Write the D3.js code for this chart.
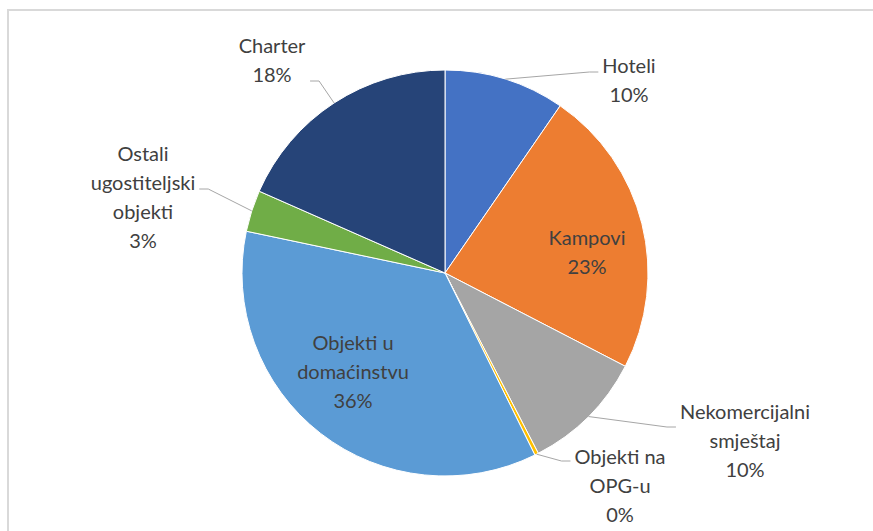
<!DOCTYPE html>
<html>
<head>
<meta charset="utf-8">
<script src="https://cdnjs.cloudflare.com/ajax/libs/d3/7.8.5/d3.min.js"></script>
<style>
body { margin: 0; background: #fff; }
text { font-family: Lato, "Open Sans", sans-serif; fill: #404040; }
</style>
</head>
<body>
<svg id="chart" width="873" height="531"></svg>
<script>
var categories = ["Hoteli", "Kampovi", "Nekomercijalni\nsmještaj", "Objekti na\nOPG-u", "Objekti u\ndomaćinstvu", "Ostali\nugostiteljski\nobjekti", "Charter"];
var shares = [9.6, 23.0, 9.8, 0.3, 35.6, 3.3, 18.4];
var colors = ["#4472C4", "#ED7D31", "#A5A5A5", "#FFC000", "#5B9BD5", "#70AD47", "#264478"];

// where each label block sits, relative to pie centre (side = leader line comes in from)
var labelLayout = {
  "Hoteli":        {x: 184, y: -193, side: "left",  attachY: -201},
  "Kampovi":       {x: 142, y: -21},
  "Nekomercijalni\nsmještaj": {x: 300, y: 168, side: "left", attachY: 154},
  "Objekti na\nOPG-u":        {x: 175, y: 213, side: "left", attachY: 188},
  "Objekti u\ndomaćinstvu":   {x: -92, y: 99},
  "Ostali\nugostiteljski\nobjekti": {x: -302, y: -76, side: "right", attachY: -84},
  "Charter":       {x: -173, y: -213, side: "right", attachY: -192}
};

function drawPie(domId){
  var svg = d3.select(domId);
  var cx = 445, cy = 273, radius = 203;
  var lineH = 29;

  // frame
  svg.append("rect")
    .attr("x", 8).attr("y", 10)
    .attr("width", 900).attr("height", 560)
    .attr("fill", "none")
    .attr("stroke", "#d9d9d9")
    .attr("stroke-width", 2);

  var data = categories.map(function(c, i){ return {name: c, value: shares[i], color: colors[i]}; });
  var total = d3.sum(shares);

  var pie = d3.pie().sort(null).value(function(d){ return d.value; });
  var arc = d3.arc().innerRadius(0).outerRadius(radius);
  var arcs = pie(data);

  var g = svg.append("g").attr("transform", "translate(" + cx + "," + cy + ")");

  g.selectAll(".slice")
    .data(arcs)
    .enter().append("path")
      .attr("class", "slice")
      .attr("d", arc)
      .attr("fill", function(d){ return d.data.color; })
      .attr("stroke", "#fff")
      .attr("stroke-width", 1);

  arcs.forEach(function(d){
    var lay = labelLayout[d.data.name];
    var lines = d.data.name.split("\n");
    lines.push(Math.round(d.data.value / total * 100) + "%");

    var t = g.append("text")
      .attr("text-anchor", "middle")
      .attr("font-size", 20);
    lines.forEach(function(s, i){
      t.append("tspan")
        .attr("x", lay.x)
        .attr("y", lay.y + (i - (lines.length - 1) / 2) * lineH)
        .attr("dy", "0.35em")
        .text(s);
    });

    if (lay.side) {
      var bb = t.node().getBBox();
      var mid = (d.startAngle + d.endAngle) / 2;
      var start = d3.pointRadial(mid, radius);
      var endX = lay.side == "left" ? bb.x - 4 : bb.x + bb.width + 4;
      var elbowX = lay.side == "left" ? endX - 9 : endX + 9;
      g.append("path")
        .attr("d", "M" + start[0] + "," + start[1] + "L" + elbowX + "," + lay.attachY + "L" + endX + "," + lay.attachY)
        .attr("fill", "none")
        .attr("stroke", "#a6a6a6")
        .attr("stroke-width", 1);
    }
  });
}

drawPie("#chart");
</script>
</body>
</html>
